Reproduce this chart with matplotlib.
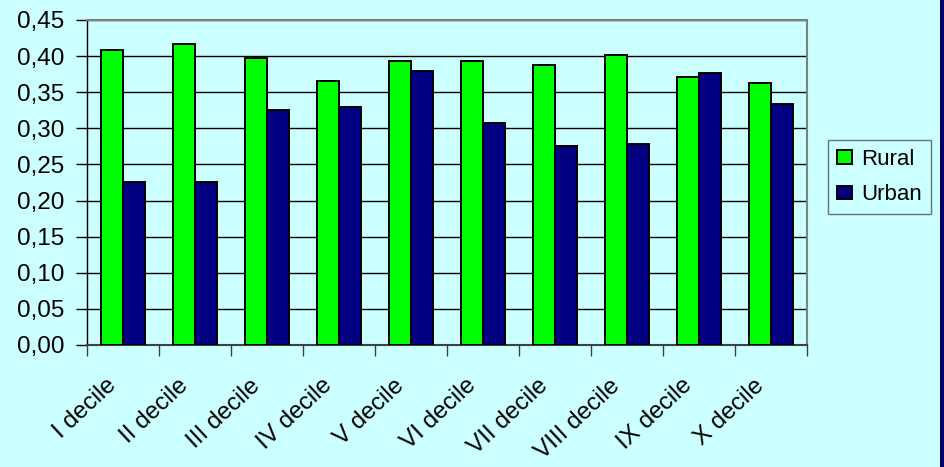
import matplotlib
matplotlib.use("Agg")
import matplotlib.pyplot as plt
from matplotlib.patches import Rectangle
from matplotlib.ticker import FixedLocator, FuncFormatter
from matplotlib.transforms import ScaledTranslation
import numpy as np

categories = ["I decile", "II decile", "III decile", "IV decile", "V decile",
              "VI decile", "VII decile", "VIII decile", "IX decile", "X decile"]
rural = [0.409, 0.417, 0.398, 0.366, 0.393, 0.393, 0.387, 0.402, 0.371, 0.363]
urban = [0.226, 0.226, 0.325, 0.330, 0.379, 0.308, 0.276, 0.278, 0.377, 0.333]
series_names = ["Rural", "Urban"]
y_ticks = [0.00, 0.05, 0.10, 0.15, 0.20, 0.25, 0.30, 0.35, 0.40, 0.45]

BG = "#CCFFFF"
GREEN = "#00FF00"
NAVY = "#000080"

plt.rcParams["font.family"] = ["Liberation Sans", "DejaVu Sans"]

W, H, DPI = 944, 467, 100
fig = plt.figure(figsize=(W / DPI, H / DPI), dpi=DPI, facecolor=BG)
ax = fig.add_axes([87 / W, 1 - 345 / H, (807 - 87) / W, (345 - 20) / H])
ax.set_facecolor(BG)

x = np.arange(len(categories))
bw = 0.3
ax.bar(x - bw / 2, rural, width=bw, color=GREEN, edgecolor="black",
       linewidth=1.4, label=series_names[0], zorder=3)
ax.bar(x + bw / 2, urban, width=bw, color=NAVY, edgecolor="black",
       linewidth=1.4, label=series_names[1], zorder=3)

ax.set_xlim(-0.5, len(categories) - 0.5)
ax.set_ylim(0, 0.45)

# y axis: ticks, comma decimals, black gridlines
ax.yaxis.set_major_locator(FixedLocator(y_ticks))
ax.yaxis.set_major_formatter(FuncFormatter(lambda v, p: f"{v:.2f}".replace(".", ",")))
ax.tick_params(axis="y", which="major", direction="out", length=8, width=1,
               color="black", labelsize=17.5, pad=8.5, labelcolor="black")
ax.yaxis.grid(True, color="black", linewidth=1, zorder=1)
ax.set_axisbelow(True)

# x axis: labels at centres, tick marks between groups
ax.set_xticks(x)
ax.set_xticklabels(categories)
ax.set_xticks(np.arange(-0.5, len(categories)), minor=True)
ax.tick_params(axis="x", which="major", length=0, labelsize=17.5, pad=27)
ax.tick_params(axis="x", which="minor", direction="out", length=8, width=1,
               color="#404040")
for lab in ax.get_xticklabels():
    lab.set_rotation(43)
    lab.set_rotation_mode("anchor")
    lab.set_ha("right")
    lab.set_va("center")
    lab.set_transform(lab.get_transform() +
                      ScaledTranslation(-10 / DPI, 0, fig.dpi_scale_trans))

for side in ("top", "right"):
    ax.spines[side].set_color("#808080")
    ax.spines[side].set_linewidth(1.5)
ax.spines["left"].set_color("black")
ax.spines["left"].set_linewidth(1)
ax.spines["bottom"].set_color("#404040")
ax.spines["bottom"].set_linewidth(1.5)

leg = ax.legend(loc="upper left", bbox_to_anchor=(828 / W, 1 - 140 / H),
                bbox_transform=fig.transFigure, borderaxespad=0,
                fontsize=16, frameon=True, fancybox=False,
                handlelength=0.68, handleheight=0.55, handletextpad=0.4,
                labelspacing=0.65, borderpad=0.4)
leg.get_frame().set_edgecolor("#505050")
leg.get_frame().set_linewidth(1)
leg.get_frame().set_facecolor(BG)

# dark strip along the right edge of the figure
fig.patches.append(Rectangle((940 / W, 0), 4 / W, 1, transform=fig.transFigure,
                             facecolor="#000066", edgecolor="none"))

fig.savefig("out.png", dpi=DPI, facecolor=BG)
